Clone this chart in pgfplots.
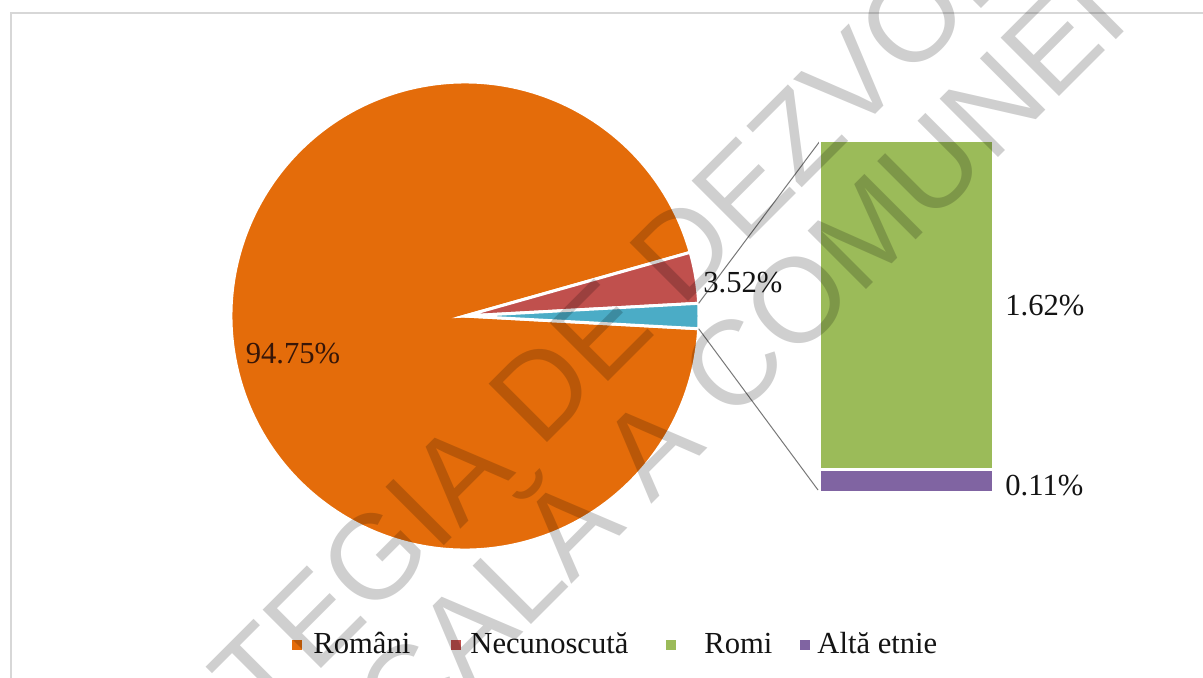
\documentclass[border=0pt]{standalone}
\usepackage{fontspec}
\setmainfont{Liberation Serif}
\newfontfamily\wmfont{Liberation Sans}
\usepackage{pgfplots}
\pgfplotsset{compat=1.18}
\definecolor{cRom}{RGB}{228,108,10}
\definecolor{cNec}{RGB}{192,80,77}
\definecolor{cOth}{RGB}{75,172,198}
\definecolor{cRomi}{RGB}{155,187,89}
\definecolor{cAlta}{RGB}{128,100,162}
\definecolor{cFrame}{RGB}{215,215,215}
\definecolor{cConn}{RGB}{120,120,120}
\definecolor{cLbl}{RGB}{20,20,20}
\definecolor{cLblDark}{RGB}{55,22,8}
% data (percent)
\def\vRomani{94.75}
\def\vNec{3.52}
\def\vRomi{1.62}
\def\vAlta{0.11}
\begin{document}
\begin{tikzpicture}
\pgfmathsetmacro{\vOther}{\vRomi+\vAlta}
\pgfmathsetmacro{\aA}{-1.8*\vOther}
\pgfmathsetmacro{\aB}{1.8*\vOther}
\pgfmathsetmacro{\aC}{\aB+3.6*\vNec}
\pgfmathsetmacro{\aD}{\aC+3.6*\vRomani}
\def\R{117pt}
\begin{axis}[x=0.5pt, y=0.5pt, xmin=0, xmax=1203, ymin=0, ymax=677,
  hide axis, clip mode=global, anchor=south west, at={(0,0)}]
\fill[white] (axis cs:0,0) rectangle (axis cs:1203,677);
\draw[cFrame, line width=0.8pt] (axis cs:11,-10) -- (axis cs:11,664) -- (axis cs:1220,664);
% pie slices
\fill[cRom, draw=white, line width=1.5pt] (axis cs:465,361) -- ++(\aC:\R) arc[start angle=\aC, end angle=\aD, radius=\R] -- cycle;
\fill[cNec, draw=white, line width=1.5pt] (axis cs:465,361) -- ++(\aB:\R) arc[start angle=\aB, end angle=\aC, radius=\R] -- cycle;
\fill[cOth, draw=white, line width=1.5pt] (axis cs:465,361) -- ++(\aA:\R) arc[start angle=\aA, end angle=\aB, radius=\R] -- cycle;
% connectors
\draw[cConn, line width=0.5pt] (axis cs:465,361) ++(\aB:\R) -- (axis cs:820,536);
\draw[cConn, line width=0.5pt] (axis cs:465,361) ++(\aA:\R) -- (axis cs:818,187);
\coordinate (barSW) at (axis cs:820,185);
% labels
\node[font=\fontsize{15.3}{18}\selectfont, text=cLblDark] at (axis cs:293,323) {94.75\%};
\node[font=\fontsize{15.3}{18}\selectfont, text=cLbl, anchor=west, inner sep=0pt] at (axis cs:703,394) {3.52\%};
% legend
\fill[cRom] (axis cs:292,27) rectangle (axis cs:302,37);
\fill[cNec] (axis cs:451,27) rectangle (axis cs:461,37);
\fill[cRomi] (axis cs:666,27) rectangle (axis cs:676,37);
\fill[cAlta] (axis cs:800,27) rectangle (axis cs:810,37);
\node[font=\fontsize{15.3}{18}\selectfont, text=cLbl, anchor=base west, inner sep=0pt] at (axis cs:313,24) {Români};
\node[font=\fontsize{15.3}{18}\selectfont, text=cLbl, anchor=base west, inner sep=0pt] at (axis cs:470,24) {Necunoscută};
\node[font=\fontsize{15.3}{18}\selectfont, text=cLbl, anchor=base west, inner sep=0pt] at (axis cs:704,24) {Romi};
\node[font=\fontsize{15.3}{18}\selectfont, text=cLbl, anchor=base west, inner sep=0pt] at (axis cs:817,24) {Altă etnie};
\end{axis}
\begin{axis}[at={(barSW)}, anchor=south west, scale only axis, width=86.5pt, height=175.5pt,
  xmin=-0.5, xmax=0.5, ymin=0, ymax=1.73, hide axis, clip=false,
  ybar stacked, bar width=86.5pt, bar shift=0pt]
\addplot[fill=cAlta, draw=white, line width=1.2pt] coordinates {(0,\vAlta)};
\addplot[fill=cRomi, draw=white, line width=1.2pt] coordinates {(0,\vRomi)};
\node[font=\fontsize{15.3}{18}\selectfont, text=cLbl, anchor=west, inner sep=0pt, xshift=6pt] at (axis cs:0.5,0.92) {1.62\%};
\node[font=\fontsize{15.3}{18}\selectfont, text=cLbl, anchor=west, inner sep=0pt, xshift=6pt] at (axis cs:0.5,0.03) {0.11\%};
\end{axis}
% watermark
\begin{scope}
\clip (0,0) rectangle (601.5pt,338.5pt);
\node[rotate=45, anchor=base west, inner sep=0pt, text=black, text opacity=0.19,
  font=\wmfont\fontsize{60}{60}\selectfont] at (21pt,-135.5pt) {STRATEGIA DE DEZVOLTARE};
\node[rotate=45, anchor=base west, inner sep=0pt, text=black, text opacity=0.19,
  font=\wmfont\fontsize{60}{60}\selectfont] at (146.5pt,-93pt) {LOCALĂ A COMUNEI};
\end{scope}
\end{tikzpicture}
\end{document}
